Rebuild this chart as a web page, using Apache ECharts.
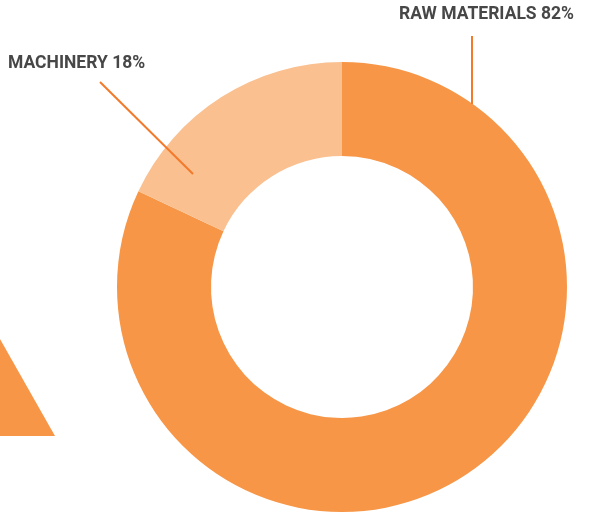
<!DOCTYPE html>
<html>
<head>
<meta charset="utf-8">
<script src="https://cdn.jsdelivr.net/npm/echarts@6/dist/echarts.min.js"></script>
<style>
  html, body { margin: 0; padding: 0; background: #ffffff; }
  #chart { width: 589px; height: 514px; }
</style>
</head>
<body>
<div id="chart"></div>
<script>
// Cost breakdown shares
const categories = ['RAW MATERIALS', 'MACHINERY'];
const shares = [82, 18];
const sliceColors = ['#F79646', '#FAC090'];

const chart = echarts.init(document.getElementById('chart'), null, { renderer: 'canvas' });

// Fixed label anchors and leader-line routes, per slice
const labelSpots = [
  { x: 574, y: 15, align: 'right', line: [[472, 104], [472, 36]] },
  { x: 8, y: 64, align: 'left', line: [[193, 174], [100, 82]] }
];

chart.setOption({
  animation: false,
  backgroundColor: '#ffffff',
  graphic: [
    {
      type: 'polygon',
      shape: { points: [[0, 339], [55, 436], [0, 436]] },
      style: { fill: '#F79646' },
      z: 1
    }
  ].concat(labelSpots.map(s => ({
    type: 'polyline',
    shape: { points: s.line },
    style: { stroke: '#F37A2A', lineWidth: 2, fill: null },
    z: 100
  }))),
  series: [
    {
      type: 'pie',
      center: [342, 287],
      radius: [131, 225],
      startAngle: 90,
      clockwise: true,
      silent: true,
      data: categories.map((c, i) => ({
        name: c,
        value: shares[i],
        itemStyle: { color: sliceColors[i] }
      })),
      label: {
        show: true,
        formatter: p => p.name + ' ' + p.value + '%',
        fontFamily: 'Roboto',
        fontWeight: 'bold',
        fontSize: 17.5,
        color: '#474747',
        overflow: 'none'
      },
      labelLine: { show: false },
      labelLayout: params => {
        const s = labelSpots[params.dataIndex];
        return {
          x: s.x,
          y: s.y,
          align: s.align,
          verticalAlign: 'middle'
        };
      }
    }
  ]
});
</script>
</body>
</html>
